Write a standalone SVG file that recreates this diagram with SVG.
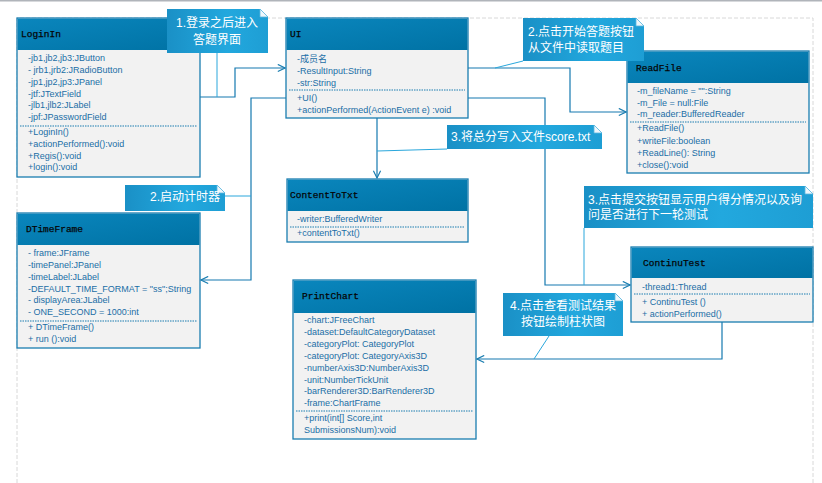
<svg xmlns="http://www.w3.org/2000/svg" width="822" height="483" viewBox="0 0 822 483">
<defs>
<linearGradient id="hdr" x1="0" y1="0" x2="1" y2="1">
<stop offset="0" stop-color="#0a86bd"/>
<stop offset="1" stop-color="#0072a4"/>
</linearGradient>
<linearGradient id="note" x1="0" y1="0" x2="1" y2="0">
<stop offset="0" stop-color="#1a90c6"/>
<stop offset="0.6" stop-color="#22a8de"/>
<stop offset="1" stop-color="#1e9ed4"/>
</linearGradient>
<marker id="arr" viewBox="0 0 10 10" refX="9" refY="5" markerWidth="9" markerHeight="9" markerUnits="userSpaceOnUse" orient="auto">
<path d="M1,1 L9,5 L1,9" fill="none" stroke="#1a7db0" stroke-width="1.3"/>
</marker>
<style>
.box{fill:#f2f2f2;stroke:#1a7db0;stroke-width:1.3}
.hd{fill:url(#hdr)}
.ttl{font-family:"Liberation Mono",monospace;font-size:9.5px;fill:#050505;stroke:#050505;stroke-width:0.25}
.t{font-family:"Liberation Sans","Noto Sans CJK SC",sans-serif;font-size:9px;fill:#1a6ea6}
.sep{stroke:#1a7db0;stroke-width:1;stroke-dasharray:1.5,1}
.con{fill:none;stroke:#1479b0;stroke-width:1.2}
.ncon{fill:none;stroke:#2aa7dc;stroke-width:1}
.nt{fill:url(#note)}
.fold{fill:#eef7fc;stroke:#5bb8e0;stroke-width:0.8}
.ntx{font-family:"Liberation Sans","Noto Sans CJK SC",sans-serif;font-size:12px;fill:#fff}
</style>
</defs>
<rect x="0" y="0" width="822" height="483" fill="#fff"/>
<line x1="0" y1="0.8" x2="822" y2="0.8" stroke="#b0b4ba" stroke-width="1.6"/>
<path d="M17,483 V18 H813 V483" fill="none" stroke="#d8d8d8" stroke-width="1" stroke-dasharray="4,2"/>

<g id="connectors">
<path class="con" d="M200,97 H235 V68 H285" marker-end="url(#arr)"/>
<path class="con" d="M286,98 H251 V280 H201" marker-end="url(#arr)"/>
<path class="con" d="M468,68 H570 V112 H626" marker-end="url(#arr)"/>
<path class="con" d="M377,118 V178" marker-end="url(#arr)"/>
<path class="con" d="M468,98 H545 V285 H630" marker-end="url(#arr)"/>
<path class="con" d="M722,322 V359 H477" marker-end="url(#arr)"/>
<path class="ncon" d="M217,53 V97"/>
<path class="ncon" d="M225,196 H251"/>
<path class="ncon" d="M523,61 L495,68"/>
<path class="ncon" d="M447,149 L377,151"/>
<path class="ncon" d="M584,228 V285"/>
<path class="ncon" d="M549,336 L534,359"/>
</g>

<g id="LoginIn">
<rect class="box" x="17" y="18" width="183" height="159"/>
<rect class="hd" x="17.6" y="18.6" width="181.8" height="31.4"/>
<text class="ttl" x="21" y="36.5">LoginIn</text>
<text class="t" x="28" y="61">-jb1,jb2,jb3:JButton</text>
<text class="t" x="28" y="73">- jrb1,jrb2:JRadioButton</text>
<text class="t" x="28" y="85">-jp1,jp2,jp3:JPanel</text>
<text class="t" x="28" y="97">-jtf:JTextField</text>
<text class="t" x="28" y="108">-jlb1,jlb2:JLabel</text>
<text class="t" x="28" y="120">-jpf:JPasswordField</text>
<line class="sep" x1="20" y1="126" x2="197" y2="126"/>
<text class="t" x="28" y="135">+LoginIn()</text>
<text class="t" x="28" y="147">+actionPerformed():void</text>
<text class="t" x="28" y="159">+Regis():void</text>
<text class="t" x="28" y="170">+login():void</text>
</g>

<g id="UI">
<rect class="box" x="286" y="18" width="182" height="100"/>
<rect class="hd" x="286.6" y="18.6" width="180.8" height="31.4"/>
<text class="ttl" x="290" y="36.5">UI</text>
<text class="t" x="297" y="62">-成员名</text>
<text class="t" x="297" y="74">-ResultInput:String</text>
<text class="t" x="297" y="86">-str:String</text>
<line class="sep" x1="289" y1="90" x2="465" y2="90"/>
<text class="t" x="297" y="101">+UI()</text>
<text class="t" x="297" y="113">+actionPerformed(ActionEvent e) :void</text>
</g>

<g id="ReadFile">
<rect class="box" x="627" y="51" width="182" height="122"/>
<rect class="hd" x="627.6" y="51.6" width="180.8" height="31.4"/>
<text class="ttl" x="636" y="70.5">ReadFile</text>
<text class="t" x="637" y="94">-m_fileName = "":String</text>
<text class="t" x="637" y="106">-m_File = null:File</text>
<text class="t" x="637" y="117">-m_reader:BufferedReader</text>
<line class="sep" x1="630" y1="122" x2="806" y2="122"/>
<text class="t" x="637" y="131">+ReadFile()</text>
<text class="t" x="637" y="144">+writeFile:boolean</text>
<text class="t" x="637" y="156">+ReadLine(): String</text>
<text class="t" x="637" y="168">+close():void</text>
</g>

<g id="DTimeFrame">
<rect class="box" x="17" y="213" width="183" height="135"/>
<rect class="hd" x="17.6" y="213.6" width="181.8" height="31.4"/>
<text class="ttl" x="26" y="232">DTimeFrame</text>
<text class="t" x="28" y="256">- frame:JFrame</text>
<text class="t" x="28" y="268">-timePanel:JPanel</text>
<text class="t" x="28" y="280">-timeLabel:JLabel</text>
<text class="t" x="28" y="292">-DEFAULT_TIME_FORMAT = "ss";String</text>
<text class="t" x="28" y="303">- displayArea:JLabel</text>
<text class="t" x="28" y="315">- ONE_SECOND = 1000:int</text>
<line class="sep" x1="20" y1="321" x2="197" y2="321"/>
<text class="t" x="28" y="330">+ DTimeFrame()</text>
<text class="t" x="28" y="342">+ run ():void</text>
</g>

<g id="ContentToTxt">
<rect class="box" x="287" y="179" width="181" height="63"/>
<rect class="hd" x="287.6" y="179.6" width="179.8" height="31.4"/>
<text class="ttl" x="290" y="198">ContentToTxt</text>
<text class="t" x="297" y="222">-writer:BufferedWriter</text>
<line class="sep" x1="290" y1="227" x2="465" y2="227"/>
<text class="t" x="297" y="236">+contentToTxt()</text>
</g>

<g id="ContinuTest">
<rect class="box" x="631" y="247" width="182" height="75"/>
<rect class="hd" x="631.6" y="247.6" width="180.8" height="30.4"/>
<text class="ttl" x="643" y="266">ContinuTest</text>
<text class="t" x="642" y="290">-thread1:Thread</text>
<line class="sep" x1="634" y1="294" x2="810" y2="294"/>
<text class="t" x="642" y="305">+ ContinuTest ()</text>
<text class="t" x="642" y="317">+ actionPerformed()</text>
</g>

<g id="PrintChart">
<rect class="box" x="293" y="280" width="183" height="159"/>
<rect class="hd" x="293.6" y="280.6" width="181.8" height="32.4"/>
<text class="ttl" x="302" y="299">PrintChart</text>
<text class="t" x="304" y="323">-chart:JFreeChart</text>
<text class="t" x="304" y="335">-dataset:DefaultCategoryDataset</text>
<text class="t" x="304" y="347">-categoryPlot: CategoryPlot</text>
<text class="t" x="304" y="359">-categoryPlot: CategoryAxis3D</text>
<text class="t" x="304" y="371">-numberAxis3D:NumberAxis3D</text>
<text class="t" x="304" y="383">-unit:NumberTickUnit</text>
<text class="t" x="304" y="394">-barRenderer3D:BarRenderer3D</text>
<text class="t" x="304" y="406">-frame:ChartFrame</text>
<line class="sep" x1="296" y1="411" x2="473" y2="411"/>
<text class="t" x="304" y="421">+print(int[] Score,int</text>
<text class="t" x="304" y="433">SubmissionsNum):void</text>
</g>

<g id="note1">
<path class="nt" d="M167,9 H260 L268,17 V53 H167 Z"/>
<path class="fold" d="M260,9 L260,17 L268,17 Z"/>
<text class="ntx" x="217" y="27" text-anchor="middle">1.登录之后进入</text>
<text class="ntx" x="217" y="44" text-anchor="middle">答题界面</text>
</g>

<g id="note2a">
<path class="nt" d="M523,18 H636 L644,26 V61 H523 Z"/>
<path class="fold" d="M636,18 L636,26 L644,26 Z"/>
<text class="ntx" x="528" y="36">2.点击开始答题按钮</text>
<text class="ntx" x="528" y="52">从文件中读取题目</text>
</g>

<g id="note2b">
<path class="nt" d="M125,185 H217 L225,193 V211 H125 Z"/>
<path class="fold" d="M217,185 L217,193 L225,193 Z"/>
<text class="ntx" x="220" y="201" text-anchor="end">2.启动计时器</text>
</g>

<g id="note3a">
<path class="nt" d="M447,125 H594 L602,133 V149 H447 Z"/>
<path class="fold" d="M594,125 L594,133 L602,133 Z"/>
<text class="ntx" x="451" y="141">3.将总分写入文件score.txt</text>
</g>

<g id="note3b">
<path class="nt" d="M584,186 H805 L813,194 V228 H584 Z"/>
<path class="fold" d="M805,186 L805,194 L813,194 Z"/>
<text class="ntx" x="588" y="204">3.点击提交按钮显示用户得分情况以及询</text>
<text class="ntx" x="588" y="219">问是否进行下一轮测试</text>
</g>

<g id="note4">
<path class="nt" d="M503,293 H615 L623,301 V336 H503 Z"/>
<path class="fold" d="M615,293 L615,301 L623,301 Z"/>
<text class="ntx" x="563" y="310" text-anchor="middle">4.点击查看测试结果</text>
<text class="ntx" x="563" y="326" text-anchor="middle">按钮绘制柱状图</text>
</g>
</svg>
